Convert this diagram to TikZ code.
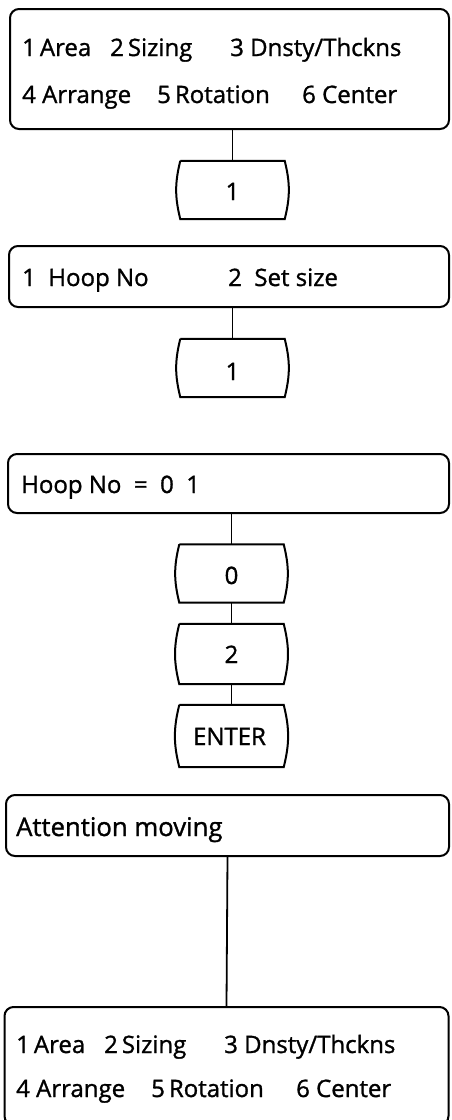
\documentclass[tikz,border=0pt]{standalone}
\usepackage{fontspec}
\setmainfont{Open Sans}[UprightFeatures={FakeBold=1.2}]
\usetikzlibrary{positioning}

\begin{document}
\begin{tikzpicture}[
    x=1pt, y=-1pt,
    font=\fontsize{24}{28}\selectfont,
    disp/.style={rectangle, draw, line width=2pt, rounded corners=9pt, inner sep=0pt},
    keycap/.style={rectangle, minimum width=104pt, minimum height=58pt, inner sep=0pt},
    lbl/.style={anchor=base west, inner sep=0pt},
    keylbl/.style={anchor=base, inner sep=0pt},
    link/.style={line width=1.8pt},
  ]
  \useasboundingbox (0,0) rectangle (451,1120);
  \clip (0,0) rectangle (451,1120);

  % display panels
  \node[disp, minimum width=439pt, minimum height=120pt] (d1) at (229.5,69) {};
  \node[disp, minimum width=440pt, minimum height=61pt] (d2) at (229,276.5) {};
  \node[disp, minimum width=441pt, minimum height=59pt] (d3) at (228.5,483.5) {};
  \node[disp, minimum width=443pt, minimum height=61pt] (d4) at (227.5,825.5) {};
  \node[disp, minimum width=444pt, minimum height=118pt] (d5) at (226.5,1066) {};

  % panel texts
  \node[lbl] (a1) at (22,56) {1\,Area};
  \node[lbl] (a2) at (110,56) {2\,Sizing};
  \node[lbl] (a3) at (230,56) {3 Dnsty/Thckns};
  \node[lbl] (a4) at (22,103) {4 Arrange};
  \node[lbl] (a5) at (157,103) {5\,Rotation};
  \node[lbl] (a6) at (302,103) {6 Center};
  \node[lbl] (b1) at (22,286) {1 \ Hoop No};
  \node[lbl] (b2) at (228,286) {2 \ Set size};
  \node[lbl] (c1) at (21,493) {Hoop No \ = \ 0 \ 1};
  \node[lbl, font=\fontsize{25.7}{30}\selectfont] (m1) at (16,836) {Attention moving};
  \node[lbl] (e1) at (16,1053) {1\,Area};
  \node[lbl] (e2) at (104,1053) {2\,Sizing};
  \node[lbl] (e3) at (224,1053) {3 Dnsty/Thckns};
  \node[lbl] (e4) at (16,1097) {4 Arrange};
  \node[lbl] (e5) at (151,1097) {5\,Rotation};
  \node[lbl] (e6) at (296,1097) {6 Center};

  % keys
  \node[keycap] (k1) at (232.5,190) {};
  \node[keycap] (k2) at (232.5,368) {};
  \node[keycap] (k3) at (231.5,573.5) {};
  \node[keycap, minimum height=60pt] (k4) at (231.5,654) {};
  \node[keycap, minimum height=62pt] (k5) at (231.5,736) {};
  \foreach \k in {k1,k2,k3,k4,k5}
    \draw[line width=2pt] (\k.north west) -- (\k.north east) to[bend left=14] (\k.south east)
      -- (\k.south west) to[bend left=14] (\k.north west);
  \node[keylbl] (t1) at (232.5,200) {1};
  \node[keylbl] (t2) at (232.5,380) {1};
  \node[keylbl] (t3) at (231.5,584) {0};
  \node[keylbl] (t4) at (231.5,663) {2};
  \node[keylbl] (t5) at (229.5,745) {ENTER};

  % connectors
  \draw[link] (d1.south -| k1) -- (k1.north);
  \draw[link] (d2.south -| k2) -- (k2.north);
  \draw[link] (d3.south -| k3) -- (k3.north);
  \draw[link] (k3.south) -- (k4.north);
  \draw[link] (k4.south) -- (k5.north);
  \draw[link] (d4.south) -- (d5.north);
\end{tikzpicture}
\end{document}
